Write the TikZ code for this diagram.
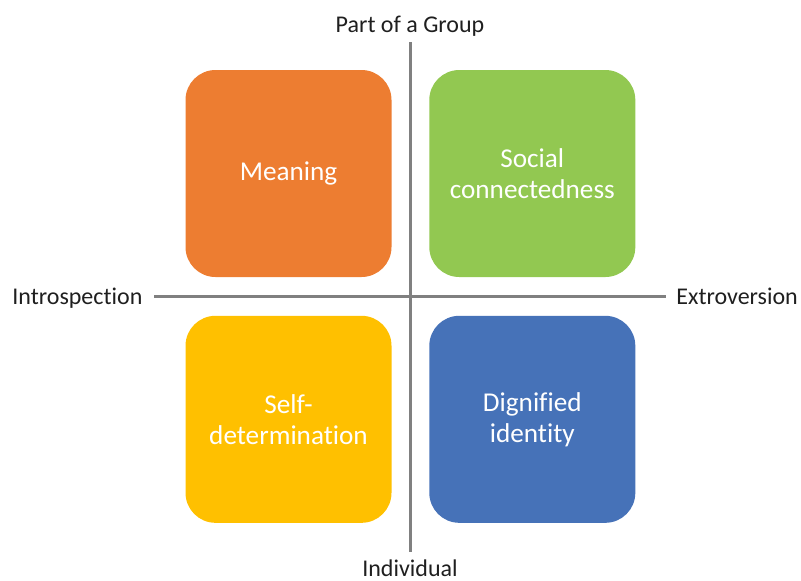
\documentclass[tikz,border=0pt]{standalone}
\usepackage{fontspec}
\setmainfont{Carlito}[Ligatures=NoCommon]
\usetikzlibrary{positioning}

\definecolor{meaningOrange}{HTML}{ED7D31}
\definecolor{socialGreen}{HTML}{92C851}
\definecolor{selfYellow}{HTML}{FFC000}
\definecolor{identityBlue}{HTML}{4672B8}
\definecolor{axisGray}{HTML}{808080}
\definecolor{poleText}{HTML}{1F1F1F}

\tikzset{
    quad/.style={rectangle, rounded corners=15pt, minimum width=103pt, minimum height=103.5pt,
        text width=95pt, align=center, text=white, font=\fontsize{13.6}{15.5}\selectfont},
    axis/.style={draw=axisGray, line width=1.5pt},
    pole/.style={inner sep=0pt, text=poleText, font=\fontsize{12}{14}\selectfont}
}

\begin{document}
\begin{tikzpicture}[x=0.5pt, y=-0.5pt]
    \useasboundingbox (0,0) rectangle (801,580);

    % the two axes
    \coordinate (groupEnd) at (410,42);
    \coordinate (indivEnd) at (410,552);
    \coordinate (introEnd) at (154,296);
    \coordinate (extroEnd) at (666,296);
    \draw[axis] (groupEnd) -- (indivEnd);
    \draw[axis] (introEnd) -- (extroEnd);

    \node[pole, anchor=base] (group) at (410,32) {Part of a Group};
    \node[pole, anchor=base] (indiv) at (410,576) {Individual};
    \node[pole, anchor=base west] (intro) at (12,304) {Introspection};
    \node[pole, anchor=base west] (extro) at (676,304) {Extroversion};

    % quadrants
    \node[quad, fill=meaningOrange] (meaning) at (288.5,173.5) {Meaning};
    \node[quad, fill=socialGreen, right = 18.5pt of meaning] (social) {Social\\connectedness};
    \node[quad, fill=selfYellow, below = 19pt of meaning] (selfdet) {Self-\\determination};
    \node[quad, fill=identityBlue, right = 18.5pt of selfdet] (identity) {Dignified\\identity};
\end{tikzpicture}
\end{document}
